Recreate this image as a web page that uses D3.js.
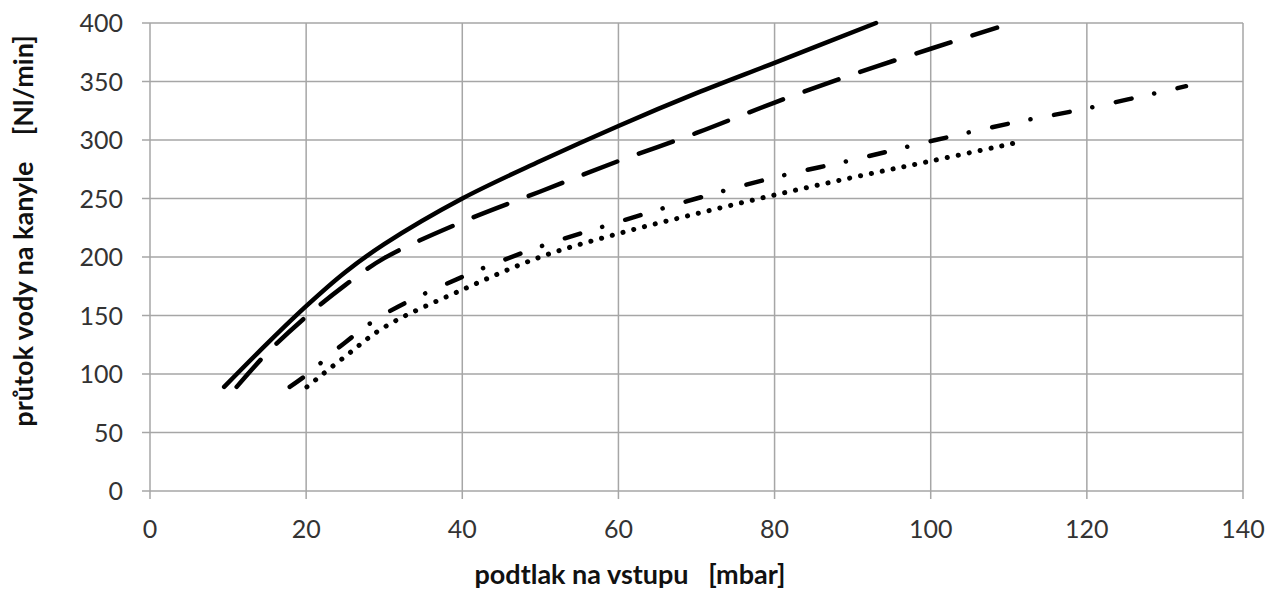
<!DOCTYPE html>
<html>
<head>
<meta charset="utf-8">
<script src="https://cdn.jsdelivr.net/npm/d3@7"></script>
<style>
  body { margin: 0; background: #fff; }
  svg { display: block; }
  text { font-family: Lato, "Open Sans", sans-serif; }
</style>
</head>
<body>
<svg id="chart"></svg>
<script>
// data: [pressure mbar, flow Nl/min]
const solidLine = [[9.5, 89], [15, 126], [20, 158], [25, 187], [30, 211], [40, 250], [50, 282], [60, 312], [70, 340], [80, 366], [93, 400]];
const dashedLine = [[11.1, 89], [15, 118], [20, 149], [25, 176], [30, 199], [40, 230], [50, 256], [60, 282], [70, 306], [80, 332], [90, 356], [100, 378], [108.5, 396]];
const dashDotLine = [[17.9, 89], [20, 99], [25, 127], [30, 151], [40, 183], [50, 209], [60, 230], [70, 250], [80, 268], [90, 283], [100, 299], [110, 314], [120, 327], [132.7, 346]];
const dottedLine = [[20.1, 89], [25, 115], [30, 140], [40, 172], [50, 200], [60, 220], [70, 237], [80, 253], [90, 268], [100, 282], [111.2, 298]];

const xTicks = [0, 20, 40, 60, 80, 100, 120, 140];
const yTicks = [0, 50, 100, 150, 200, 250, 300, 350, 400];

const series = [
  { name: "solid", values: solidLine, dash: null, width: 4.5 },
  { name: "dashed", values: dashedLine, dash: "36,23", width: 4.5 },
  { name: "dashdot", values: dashDotLine, dash: "16,23,0.1,24", width: 4.5 },
  { name: "dotted", values: dottedLine, dash: "0.1,11", width: 5 }
];

const W = 1269, H = 594;
const svg = d3.select("#chart").attr("width", W).attr("height", H);

const x = d3.scaleLinear().domain([0, 140]).range([150, 1243]);
const y = d3.scaleLinear().domain([0, 400]).range([491, 23]);

const gridColor = "#a6a6a6";

// grid
svg.append("g")
  .selectAll("line.v")
  .data(xTicks)
  .enter().append("line")
  .attr("x1", d => x(d)).attr("x2", d => x(d))
  .attr("y1", y(400)).attr("y2", y(0) + 8)
  .attr("stroke", gridColor).attr("stroke-width", 1.5);

svg.append("g")
  .selectAll("line.h")
  .data(yTicks)
  .enter().append("line")
  .attr("x1", x(0) - 8).attr("x2", x(140))
  .attr("y1", d => y(d)).attr("y2", d => y(d))
  .attr("stroke", gridColor).attr("stroke-width", 1.5);

// tick labels
svg.append("g")
  .selectAll("text")
  .data(xTicks)
  .enter().append("text")
  .attr("x", d => x(d))
  .attr("y", 538)
  .attr("text-anchor", "middle")
  .attr("fill", "#333")
  .style("font-size", "25px")
  .text(d => d);

svg.append("g")
  .selectAll("text")
  .data(yTicks)
  .enter().append("text")
  .attr("x", 123)
  .attr("y", d => y(d))
  .attr("dy", "0.36em")
  .attr("text-anchor", "end")
  .attr("fill", "#333")
  .style("font-size", "25px")
  .text(d => d);

// lines
const line = d3.line()
  .x(d => x(d[0]))
  .y(d => y(d[1]))
  .curve(d3.curveCatmullRom.alpha(0.5));

svg.append("g")
  .selectAll("path")
  .data(series)
  .enter().append("path")
  .attr("d", d => line(d.values))
  .attr("fill", "none")
  .attr("stroke", "#000")
  .attr("stroke-width", d => d.width)
  .attr("stroke-linecap", "round")
  .attr("stroke-dasharray", d => d.dash);

// axis titles
svg.append("text")
  .attr("x", 630)
  .attr("y", 584)
  .attr("text-anchor", "middle")
  .attr("fill", "#111")
  .style("font-size", "27px")
  .style("font-weight", "bold")
  .style("white-space", "pre")
  .text("podtlak na vstupu   [mbar]");

svg.append("text")
  .attr("transform", "translate(33,231) rotate(-90)")
  .attr("text-anchor", "middle")
  .attr("fill", "#111")
  .style("font-size", "27px")
  .style("font-weight", "bold")
  .style("white-space", "pre")
  .text("průtok vody na kanyle    [Nl/min]");
</script>
</body>
</html>
